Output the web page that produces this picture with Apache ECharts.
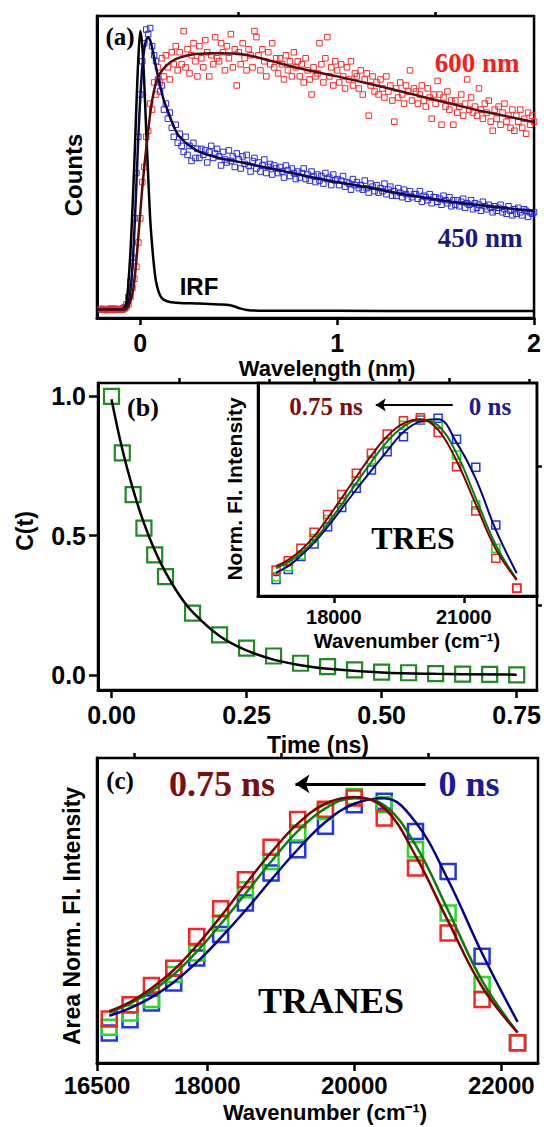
<!DOCTYPE html>
<html>
<head>
<meta charset="utf-8">
<script src="https://cdn.jsdelivr.net/npm/echarts@6/dist/echarts.min.js"></script>
<style>
  html, body { margin: 0; padding: 0; background: #fff; }
  #main { width: 544px; height: 1127px; }
</style>
</head>
<body>
<div id="main"></div>
<script>
// ---------- panel (a): decay traces ----------
var aTime = [
  -0.2,-0.19,-0.18,-0.17,-0.16,-0.15,-0.14,-0.13,-0.12,-0.11,
  -0.1,-0.09,-0.08,-0.07,-0.06,-0.05,-0.04,-0.03,-0.02,-0.01,
  0,0.01,0.02,0.03,0.04,0.05,0.06,0.07,0.08,0.09,
  0.1,0.11,0.12,0.13,0.14,0.15,0.16,0.17,0.18,0.19,
  0.2,0.21,0.22,0.23,0.24,0.25,0.26,0.27,0.28,0.29,
  0.3,0.31,0.32,0.33,0.34,0.35,0.36,0.37,0.38,0.39,
  0.4,0.41,0.42,0.43,0.44,0.45,0.46,0.47,0.48,0.49,
  0.5,0.51,0.52,0.53,0.54,0.55,0.56,0.57,0.58,0.59,
  0.6,0.61,0.62,0.63,0.64,0.65,0.66,0.67,0.68,0.69,
  0.7,0.71,0.72,0.73,0.74,0.75,0.76,0.77,0.78,0.79,
  0.8,0.81,0.82,0.83,0.84,0.85,0.86,0.87,0.88,0.89,
  0.9,0.91,0.92,0.93,0.94,0.95,0.96,0.97,0.98,0.99,
  1.0,1.01,1.02,1.03,1.04,1.05,1.06,1.07,1.08,1.09,
  1.1,1.11,1.12,1.13,1.14,1.15,1.16,1.17,1.18,1.19,
  1.2,1.21,1.22,1.23,1.24,1.25,1.26,1.27,1.28,1.29,
  1.3,1.31,1.32,1.33,1.34,1.35,1.36,1.37,1.38,1.39,
  1.4,1.41,1.42,1.43,1.44,1.45,1.46,1.47,1.48,1.49,
  1.5,1.51,1.52,1.53,1.54,1.55,1.56,1.57,1.58,1.59,
  1.6,1.61,1.62,1.63,1.64,1.65,1.66,1.67,1.68,1.69,
  1.7,1.71,1.72,1.73,1.74,1.75,1.76,1.77,1.78,1.79,
  1.8,1.81,1.82,1.83,1.84,1.85,1.86,1.87,1.88,1.89,
  1.9,1.91,1.92,1.93,1.94,1.95,1.96,1.97,1.98,1.99,
  2.0
];
var a600 = [
  0.03,0.027,0.029,0.026,0.03,0.028,0.027,0.031,0.028,0.029,
  0.029,0.027,0.031,0.036,0.045,0.07,0.1,0.13,0.17,0.25,
  0.33,0.45,0.5,0.6,0.62,0.71,0.69,0.78,0.74,0.83,
  0.78,0.86,0.8,0.87,0.83,0.79,0.88,0.84,0.9,0.82,
  0.88,0.84,0.95,0.83,0.89,0.81,0.87,0.91,0.85,0.8,
  0.9,0.86,0.83,0.92,0.88,0.8,0.87,0.84,0.93,0.86,
  0.85,0.91,0.88,0.82,0.9,0.86,0.94,0.83,0.89,0.77,
  0.88,0.84,0.91,0.86,0.82,0.89,0.87,0.83,0.95,0.93,
  0.87,0.82,0.89,0.85,0.8,0.88,0.84,0.91,0.83,0.86,
  0.81,0.86,0.84,0.79,0.87,0.82,0.85,0.8,0.88,0.83,
  0.85,0.8,0.84,0.78,0.86,0.82,0.79,0.74,0.83,0.8,
  0.81,0.91,0.84,0.78,0.86,0.93,0.8,0.83,0.77,0.85,
  0.82,0.78,0.84,0.8,0.76,0.83,0.79,0.85,0.77,0.81,
  0.8,0.76,0.82,0.74,0.79,0.81,0.67,0.77,0.8,0.75,
  0.78,0.74,0.79,0.76,0.73,0.8,0.75,0.77,0.72,0.65,
  0.76,0.73,0.78,0.74,0.71,0.77,0.75,0.82,0.72,0.76,
  0.75,0.71,0.74,0.77,0.72,0.7,0.76,0.73,0.66,0.74,
  0.71,0.785,0.74,0.64,0.73,0.7,0.75,0.69,0.72,0.64,
  0.72,0.68,0.7,0.74,0.67,0.71,0.79,0.69,0.73,0.68,
  0.7,0.67,0.76,0.69,0.66,0.71,0.68,0.72,0.65,0.62,
  0.69,0.66,0.7,0.64,0.68,0.71,0.65,0.67,0.63,0.69,
  0.62,0.67,0.65,0.69,0.63,0.66,0.61,0.68,0.64,0.67,
  0.65
];
var a450 = [
  0.028,0.03,0.027,0.029,0.028,0.031,0.027,0.029,0.03,0.028,
  0.029,0.031,0.035,0.045,0.07,0.12,0.2,0.33,0.48,0.6,
  0.74,0.85,0.91,0.955,0.94,0.96,0.9,0.87,0.85,0.79,
  0.75,0.77,0.69,0.71,0.66,0.68,0.63,0.6,0.64,0.58,
  0.61,0.57,0.55,0.6,0.54,0.57,0.52,0.58,0.53,0.56,
  0.53,0.56,0.54,0.555,0.515,0.55,0.57,0.53,0.545,0.56,
  0.535,0.505,0.55,0.525,0.515,0.555,0.52,0.535,0.5,0.545,
  0.525,0.495,0.535,0.51,0.54,0.505,0.485,0.52,0.53,0.495,
  0.515,0.485,0.505,0.525,0.48,0.5,0.51,0.475,0.505,0.495,
  0.48,0.5,0.485,0.465,0.505,0.49,0.47,0.495,0.48,0.46,
  0.485,0.465,0.48,0.495,0.46,0.475,0.455,0.485,0.47,0.45,
  0.475,0.455,0.47,0.445,0.48,0.46,0.465,0.44,0.475,0.455,
  0.46,0.44,0.455,0.47,0.435,0.45,0.445,0.425,0.46,0.44,
  0.45,0.43,0.44,0.425,0.455,0.43,0.415,0.445,0.435,0.42,
  0.44,0.415,0.43,0.42,0.445,0.41,0.425,0.435,0.405,0.42,
  0.405,0.43,0.415,0.4,0.425,0.41,0.395,0.42,0.4,0.41,
  0.41,0.395,0.42,0.385,0.405,0.4,0.39,0.41,0.38,0.4,
  0.4,0.385,0.395,0.375,0.405,0.39,0.38,0.4,0.37,0.39,
  0.375,0.39,0.37,0.385,0.395,0.365,0.38,0.375,0.39,0.36,
  0.38,0.365,0.375,0.355,0.385,0.37,0.36,0.375,0.365,0.35,
  0.37,0.355,0.365,0.375,0.35,0.36,0.345,0.37,0.355,0.34,
  0.36,0.345,0.365,0.35,0.34,0.36,0.355,0.335,0.35,0.345,
  0.35
];
var irfX = [-0.22,-0.1,-0.08,-0.07,-0.06,-0.05,-0.04,-0.03,-0.02,-0.01,0,0.01,0.02,0.03,0.04,0.05,0.06,0.07,0.08,0.1,0.12,0.15,0.2,0.3,0.4,0.45,0.48,0.5,0.55,0.7,1.0,1.5,2.0];
var irfY = [0.028,0.028,0.035,0.05,0.12,0.22,0.36,0.52,0.7,0.86,0.95,0.9,0.78,0.62,0.47,0.33,0.24,0.17,0.12,0.075,0.06,0.053,0.05,0.048,0.045,0.043,0.038,0.033,0.026,0.024,0.024,0.023,0.023];
var fit450X = [-0.22,-0.09,-0.07,-0.06,-0.05,-0.04,-0.03,-0.02,-0.01,0,0.01,0.02,0.03,0.04,0.05,0.06,0.08,0.1,0.12,0.14,0.16,0.18,0.2,0.25,0.3,0.4,0.5,0.6,0.7,0.8,0.9,1.0,1.2,1.4,1.6,1.8,2.0];
var fit450Y = [0.028,0.028,0.035,0.05,0.09,0.17,0.29,0.44,0.6,0.73,0.83,0.89,0.92,0.93,0.92,0.895,0.83,0.77,0.72,0.685,0.65,0.62,0.6,0.57,0.55,0.53,0.517,0.503,0.49,0.476,0.462,0.45,0.427,0.403,0.383,0.368,0.354];
var fit600X = [-0.22,-0.08,-0.06,-0.04,-0.03,-0.02,-0.01,0,0.01,0.02,0.03,0.04,0.05,0.06,0.08,0.1,0.13,0.16,0.2,0.28,0.4,0.5,0.6,0.7,0.8,1.0,1.2,1.3,1.5,1.7,1.8,2.0];
var fit600Y = [0.028,0.028,0.04,0.08,0.125,0.19,0.27,0.35,0.43,0.5,0.56,0.62,0.675,0.72,0.78,0.81,0.834,0.85,0.862,0.874,0.877,0.875,0.862,0.845,0.828,0.8,0.77,0.754,0.722,0.69,0.676,0.649];

// ---------- panel (b): C(t) ----------
var bTime = [0,0.02,0.04,0.06,0.08,0.1,0.15,0.2,0.25,0.3,0.35,0.4,0.45,0.5,0.55,0.6,0.65,0.7,0.75];
var bCt = [1.0,0.797,0.647,0.527,0.431,0.353,0.222,0.144,0.096,0.068,0.042,0.03,0.018,0.01,0.008,0.005,0.003,0.002,0.0];
var bFitT = [0,0.02,0.04,0.06,0.08,0.1,0.125,0.15,0.2,0.25,0.3,0.35,0.4,0.5,0.6,0.75];
var bFitC = [0.99,0.81,0.665,0.545,0.448,0.368,0.288,0.226,0.14,0.088,0.055,0.035,0.022,0.009,0.004,0.001];

// ---------- spectra (inset b and panel c) ----------
var wn = [16667,16949,17241,17544,17857,18182,18519,18868,19231,19608,20000,20408,20833,21277,21739,22222];
var tresBlue  = [0.078,0.125,0.185,0.244,0.325,0.416,0.506,0.592,0.677,0.748,0.826,0.834,0.736,0.604,0.333,0.036];
var tresGreen = [0.09,0.137,0.192,0.27,0.359,0.443,0.537,0.638,0.72,0.802,0.829,0.81,0.662,0.427,0.224,0.036];
var tresRed   = [0.122,0.166,0.224,0.299,0.383,0.477,0.576,0.67,0.761,0.823,0.837,0.768,0.607,0.399,0.177,0.036];
var tresFitBlue  = [0.11,0.14,0.19,0.25,0.325,0.41,0.5,0.59,0.68,0.77,0.82,0.83,0.72,0.55,0.31,0.107];
var tresFitGreen = [0.13,0.16,0.2,0.26,0.34,0.43,0.53,0.63,0.725,0.795,0.828,0.8,0.67,0.46,0.24,0.078];
var tresFitRed   = [0.14,0.17,0.215,0.28,0.365,0.46,0.56,0.66,0.75,0.81,0.83,0.78,0.635,0.43,0.22,0.075];

var tranesBlue  = [0.098,0.142,0.197,0.262,0.344,0.421,0.525,0.623,0.699,0.776,0.847,0.858,0.759,0.628,0.35,0.066];
var tranesGreen = [0.117,0.164,0.208,0.29,0.361,0.459,0.568,0.661,0.754,0.825,0.874,0.847,0.699,0.492,0.257,0.066];
var tranesRed   = [0.144,0.191,0.254,0.311,0.415,0.506,0.601,0.707,0.798,0.832,0.869,0.803,0.639,0.426,0.208,0.066];
var tranesFitBlue  = [0.155,0.18,0.215,0.265,0.33,0.41,0.5,0.6,0.7,0.79,0.85,0.868,0.79,0.6,0.36,0.135];
var tranesFitGreen = [0.165,0.195,0.235,0.29,0.365,0.455,0.555,0.66,0.76,0.835,0.868,0.845,0.715,0.5,0.27,0.1];
var tranesFitRed   = [0.17,0.2,0.245,0.305,0.385,0.48,0.585,0.69,0.785,0.85,0.872,0.836,0.68,0.465,0.25,0.1];

var SANS = '"Liberation Sans", Arial, sans-serif';
var SERIF = '"Liberation Serif", "Times New Roman", serif';
var RED = '#ff2222', BLUE = '#2236f0', GREEN = '#22dd22';
var DRED = '#800000', NAVY = '#00008b', DGREEN = '#0a7d0a';

function pairs(xs, ys) {
  return xs.map(function (x, i) { return [x, ys[i]]; });
}

function xAx(gi, min, max, ticks, labels, fmt, fs, margin, len, showLine) {
  return {
    type: 'value', gridIndex: gi, min: min, max: max,
    axisLine: { show: showLine, onZero: false, lineStyle: { color: '#000', width: 3 } },
    axisTick: { show: ticks.length > 0, customValues: ticks, length: len, lineStyle: { color: '#000', width: 2.5 } },
    axisLabel: { show: labels.length > 0, customValues: labels, formatter: fmt, margin: margin,
      color: '#000', fontFamily: SANS, fontWeight: 'bold', fontSize: fs },
    splitLine: { show: false }
  };
}
var yAx = xAx;

function scat(xi, yi, data, color, size, bw) {
  return {
    type: 'scatter', xAxisIndex: xi, yAxisIndex: yi, data: data, symbol: 'rect', symbolSize: size,
    itemStyle: { color: 'rgba(0,0,0,0)', borderColor: color, borderWidth: bw, opacity: 1 },
    silent: true, animation: false
  };
}
function line(xi, yi, data, color, width, smooth) {
  return {
    type: 'line', xAxisIndex: xi, yAxisIndex: yi, data: data, showSymbol: false, symbol: 'none',
    smooth: smooth, lineStyle: { color: color, width: width }, silent: true, animation: false, z: 3
  };
}
function arrowMark(x1, x2, y, width, head) {
  return {
    silent: true, animation: false, symbol: ['none', 'arrow'], symbolSize: head,
    label: { show: false },
    lineStyle: { color: '#000', width: width, type: 'solid' },
    data: [[{ coord: [x1, y] }, { coord: [x2, y] }]]
  };
}
function txt(x, y, text, size, color, family, rot) {
  return {
    type: 'text', x: x, y: y, rotation: rot || 0, silent: true, z: 100,
    style: { text: text, x: 0, y: 0, fill: color, align: 'center', verticalAlign: 'middle',
      font: 'bold ' + size + 'px ' + family }
  };
}

var f0 = function (v) { return String(v); };
var f1 = function (v) { return v.toFixed(1); };
var f2 = function (v) { return v.toFixed(2); };

var gridStyle = { show: true, borderColor: '#000', borderWidth: 2.5, backgroundColor: 'rgba(0,0,0,0)' };

var chart = echarts.init(document.getElementById('main'), null, { renderer: 'svg' });
chart.setOption({
  animation: false,
  backgroundColor: '#fff',
  grid: [
    Object.assign({ left: 97, top: 16, width: 440, height: 302 }, gridStyle),
    Object.assign({ left: 98, top: 383, width: 439, height: 307 }, gridStyle),
    Object.assign({ left: 258, top: 383, width: 279, height: 213 }, gridStyle),
    Object.assign({ left: 97, top: 758, width: 441, height: 305 }, gridStyle)
  ],
  xAxis: [
    xAx(0, -0.22, 2, [0, 1, 2], [0, 1, 2], f0, 25, 12, 7, true),
    xAx(0, -0.22, 2, [0.5, 1.5], [], f0, 0, 0, 4, false),
    xAx(1, -0.025, 0.7875, [0, 0.25, 0.5, 0.75], [0, 0.25, 0.5, 0.75], f2, 25, 12, 8, true),
    xAx(1, -0.025, 0.7875, [0.125, 0.375, 0.625], [], f0, 0, 0, 5, false),
    xAx(2, 16250, 22690, [18000, 21000], [18000, 21000], f0, 20, 11, 7, true),
    xAx(2, 16250, 22690, [16500, 19500, 22500], [], f0, 0, 0, 4, false),
    xAx(3, 16500, 22500, [16500, 18000, 20000, 22000], [16500, 18000, 20000, 22000], f0, 24, 10, 8, true),
    xAx(3, 16500, 22500, [17000, 19000, 21000], [], f0, 0, 0, 5, false)
  ],
  yAxis: [
    yAx(0, 0, 1, [], [], f0, 0, 0, 0, true),
    yAx(1, -0.054, 1.048, [0, 0.5, 1], [0, 0.5, 1], f1, 25, 12, 9, true),
    yAx(1, -0.054, 1.048, [0.25, 0.75], [], f0, 0, 0, 5, false),
    yAx(2, 0, 1, [], [], f0, 0, 0, 0, true),
    yAx(3, 0, 1, [], [], f0, 0, 0, 0, true)
  ],
  series: [
    // (a)
    scat(0, 0, pairs(aTime, a450), '#2a2ae6', 5.5, 1),
    scat(0, 0, pairs(aTime, a600), '#ff2a2a', 5.5, 1),
    line(0, 0, pairs(irfX, irfY), '#000', 2.5, 0.3),
    line(0, 0, pairs(fit450X, fit450Y), '#0a0a4a', 2.5, 0.3),
    line(0, 0, pairs(fit600X, fit600Y), '#5c0a0a', 2.5, 0.3),
    // (b)
    scat(2, 1, pairs(bTime, bCt), '#1e8c1e', 15, 2.2),
    line(2, 1, pairs(bFitT, bFitC), '#000', 2.5, 0.4),
    // inset
    scat(4, 3, pairs(wn, tresBlue), BLUE, 8, 1.5),
    scat(4, 3, pairs(wn, tresGreen), GREEN, 8, 1.5),
    scat(4, 3, pairs(wn, tresRed), RED, 8, 1.5),
    line(4, 3, pairs(wn, tresFitBlue), NAVY, 2, 0.4),
    line(4, 3, pairs(wn, tresFitGreen), DGREEN, 2, 0.4),
    Object.assign(line(4, 3, pairs(wn, tresFitRed), DRED, 2, 0.4),
      { markLine: arrowMark(20746, 18969, 0.897, 2, 10) }),
    // (c)
    scat(6, 4, pairs(wn, tranesBlue), BLUE, 15, 2.5),
    scat(6, 4, pairs(wn, tranesGreen), GREEN, 15, 2.5),
    scat(6, 4, pairs(wn, tranesRed), RED, 15, 2.5),
    line(6, 4, pairs(wn, tranesFitBlue), NAVY, 2.5, 0.4),
    line(6, 4, pairs(wn, tranesFitGreen), DGREEN, 2.5, 0.4),
    Object.assign(line(6, 4, pairs(wn, tranesFitRed), DRED, 2.5, 0.4),
      { markLine: arrowMark(20970, 19200, 0.915, 3, 14) })
  ],
  graphic: [
    // (a)
    txt(120, 36, '(a)', 25, '#000', SERIF),
    txt(477, 63, '600 nm', 27, '#ff1a1a', SERIF),
    txt(480, 238, '450 nm', 27, '#1a1a80', SERIF),
    txt(199, 286, 'IRF', 24, '#000', SANS),
    txt(73, 175, 'Counts', 24, '#000', SANS, Math.PI / 2),
    txt(327, 368, 'Wavelength (nm)', 22, '#000', SANS),
    // (b)
    txt(143, 407, '(b)', 26, '#000', SERIF),
    txt(25, 531, 'C(t)', 23, '#000', SANS, Math.PI / 2),
    txt(318, 745, 'Time (ns)', 23, '#000', SANS),
    txt(234, 489, 'Norm. Fl. Intensity', 21, '#000', SANS, Math.PI / 2),
    txt(326, 406, '0.75 ns', 25, '#7b0f0f', SERIF),
    txt(490, 406, '0 ns', 25, '#1a1a9a', SERIF),
    txt(413, 538, 'TRES', 32, '#000', SERIF),
    txt(407, 641, 'Wavenumber (cm\u207B\u00B9)', 20, '#000', SANS),
    // (c)
    txt(120, 780, '(c)', 25, '#000', SERIF),
    txt(222, 784, '0.75 ns', 36, '#7b0f0f', SERIF),
    txt(469, 784, '0 ns', 36, '#1a1a9a', SERIF),
    txt(331, 1001, 'TRANES', 36, '#000', SERIF),
    txt(72, 916, 'Area Norm. Fl. Intensity', 23, '#000', SANS, Math.PI / 2),
    txt(325, 1112, 'Wavenumber (cm\u207B\u00B9)', 22, '#000', SANS)
  ]
});
</script>
</body>
</html>
